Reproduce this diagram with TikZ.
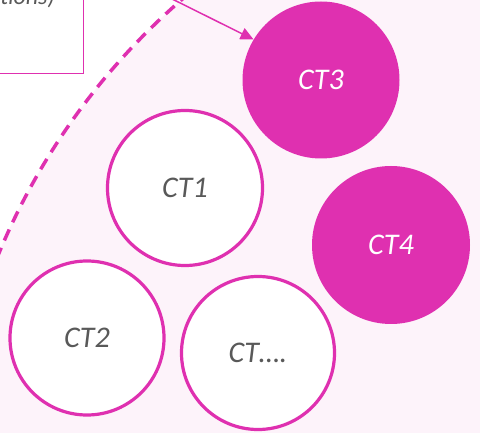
\documentclass[tikz,border=0pt]{standalone}
\usepackage{fontspec}
\setmainfont{Carlito}
\usetikzlibrary{arrows.meta}
\definecolor{mag}{HTML}{DF30B0}
\definecolor{bgpink}{HTML}{FDF3FA}
\definecolor{txtgray}{HTML}{595959}
\tikzset{
  ctopen/.style={circle, draw=mag, line width=3.2pt, fill=white, minimum size=#1, inner sep=0pt,
    font=\fontsize{30}{30}\selectfont\itshape, text=txtgray},
  ctfull/.style={circle, fill=mag, minimum size=#1, inner sep=0pt,
    font=\fontsize{30}{30}\selectfont\itshape, text=white},
  boundary/.style={draw=mag, line width=3.5pt, dash pattern=on 12pt off 8pt},
  link/.style={draw=mag, line width=1.5pt, -{Triangle[length=13pt,width=12pt]}},
}
\begin{document}
\begin{tikzpicture}[x=1pt,y=-1pt]
\useasboundingbox (0,0) rectangle (480,433);
\clip (0,0) rectangle (480,433);
% light region inside big circle
\fill[bgpink] (628,514) circle (681);
% dashed boundary arc
\draw[boundary] (628,514) ++(202:681) arc[start angle=202, end angle=232, radius=681];
% box at top left
\node[draw=mag, line width=1.3pt, fill=white, minimum width=120, minimum height=120, anchor=south east, inner sep=0pt] (box) at (84,74) {};
\node[anchor=base east, text=txtgray, font=\fontsize{24}{24}\selectfont\itshape, inner sep=0pt] (boxtxt) at (55,4.5) {(interactions)};
% circles
\node[ctfull=157] (ct3) at (321,80) {CT3};
\node[ctopen=155] (ct1) at (185,188) {CT1};
\node[ctfull=158] (ct4) at (391,245) {CT4};
\node[ctopen=154] (ct2) at (87,338) {CT2};
\node[ctopen=153] (ctx) at (258,353) {CT….};
% arrow
\coordinate (src) at (150,-12);
\draw[link] (src) -- (ct3.149);
\end{tikzpicture}
\end{document}
